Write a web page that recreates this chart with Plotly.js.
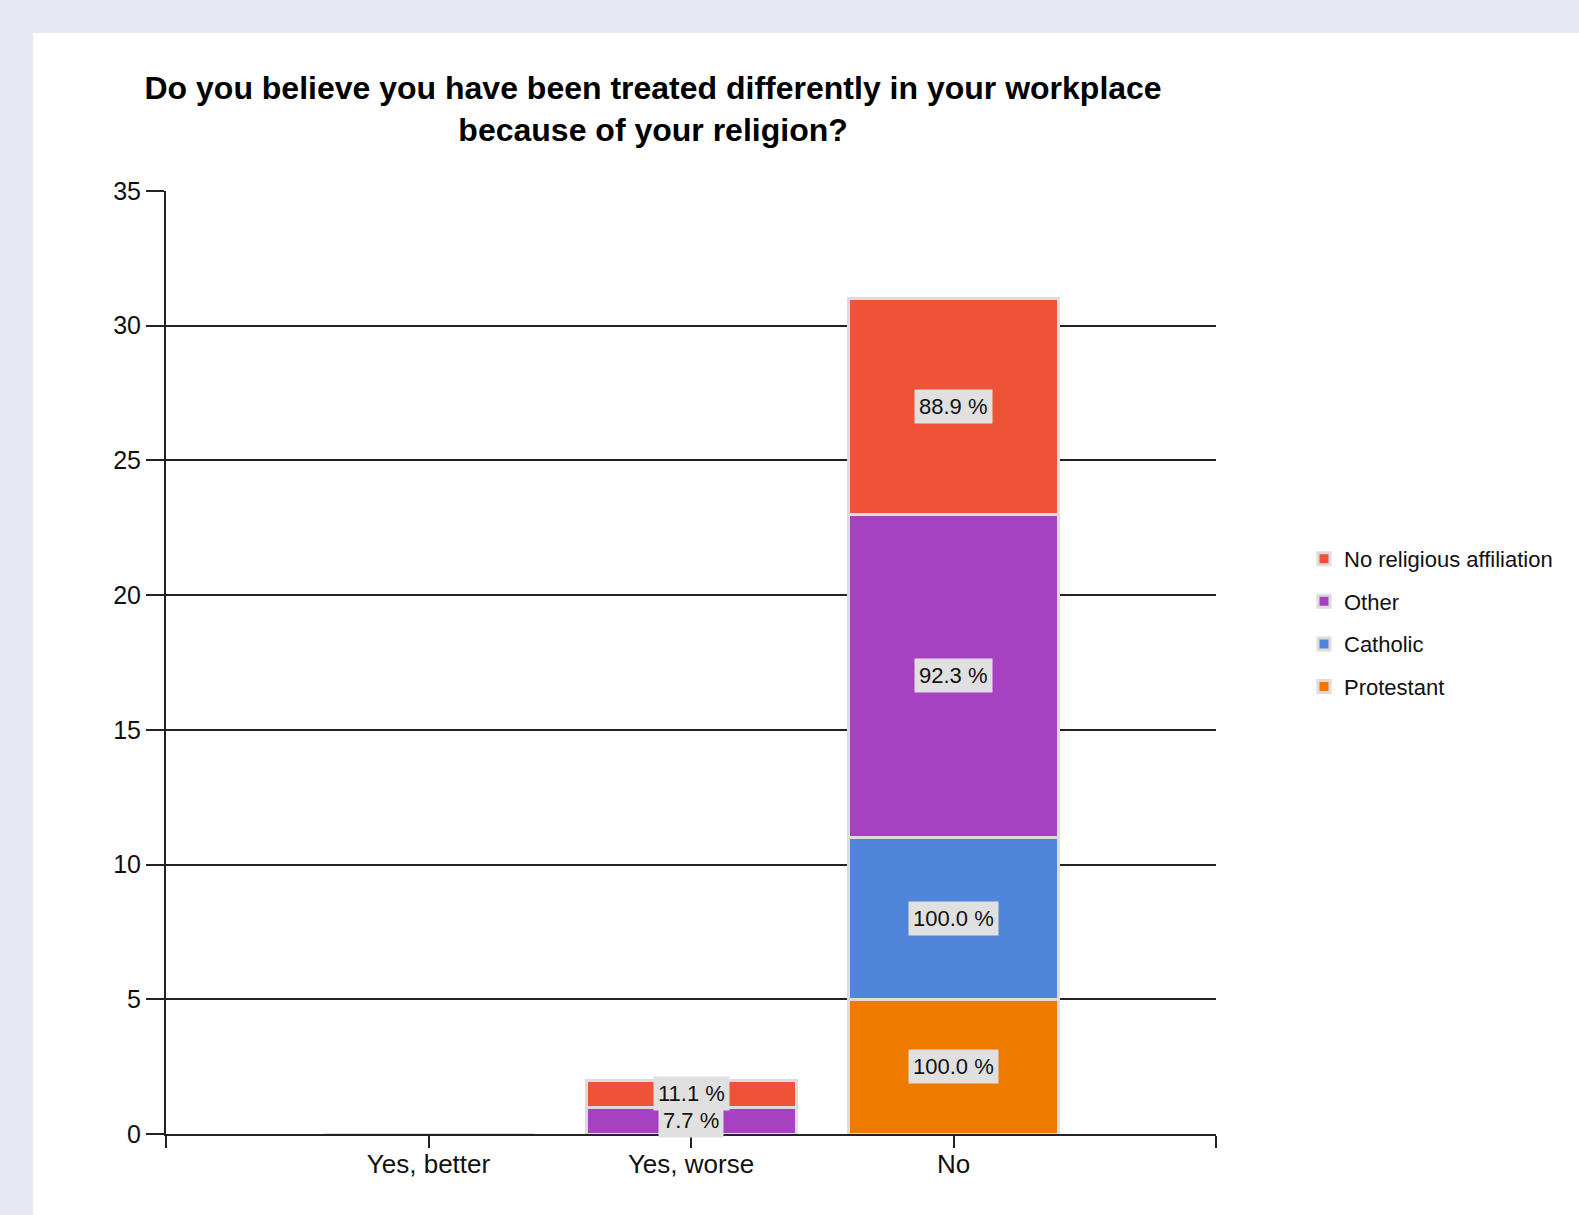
<!DOCTYPE html>
<html>
<head>
<meta charset="utf-8">
<script src="https://cdn.plot.ly/plotly-3.0.1.min.js"></script>
<style>
  html, body { margin: 0; padding: 0; background: #e6e9f2; }
  #wrap { position: relative; width: 1579px; height: 1215px; overflow: hidden; }
  #panel { position: absolute; left: 33px; top: 33px; right: 0; bottom: 0; background: #ffffff; }
  #chart { position: absolute; left: 0; top: 0; width: 1579px; height: 1215px; }
</style>
</head>
<body>
<div id="wrap">
  <div id="panel"></div>
  <div id="chart"></div>
</div>
<script>
// ---- data ----
const categories = ['Yes, better', 'Yes, worse', 'No'];
const protestant = [0, 0, 5];
const catholic = [0, 0, 6];
const other = [0, 1, 12];
const noReligion = [0, 1, 8];
const seriesNames = ['Protestant', 'Catholic', 'Other', 'No religious affiliation'];
const seriesColors = ['#ee7b00', '#5185d9', '#a642c2', '#ee5237'];
const yTicks = [0, 5, 10, 15, 20, 25, 30, 35];

const seriesValues = [protestant, catholic, other, noReligion];
const FONT = 'Liberation Sans, Arial, sans-serif';

const traces = seriesValues.map((vals, i) => ({
  type: 'bar',
  name: seriesNames[i],
  x: categories,
  y: vals,
  width: 0.8,
  legendrank: 1000 - i,
  legendgroup: 'g' + i,
  marker: { color: seriesColors[i], line: { color: '#dcdcdc', width: 3 } },
  hoverinfo: 'skip'
}));

// percentage labels (share of each series' total), centred in each segment
const annotations = [];
const base = categories.map(() => 0);
seriesValues.forEach((vals) => {
  const total = vals.reduce((a, b) => a + b, 0);
  vals.forEach((v, j) => {
    if (v > 0) {
      annotations.push({
        x: categories[j], y: base[j] + v / 2, xref: 'x', yref: 'y',
        text: (v / total * 100).toFixed(1) + ' %',
        showarrow: false,
        bgcolor: '#e0e0e0',
        borderpad: 4,
        font: { family: FONT, size: 22, color: '#111111' }
      });
    }
    base[j] += v;
  });
});

const layout = {
  width: 1579, height: 1215,
  paper_bgcolor: 'rgba(0,0,0,0)',
  plot_bgcolor: 'rgba(0,0,0,0)',
  margin: { l: 166, r: 363, t: 191, b: 81 },
  barmode: 'stack',
  title: {
    text: 'Do you believe you have been treated differently in your workplace<br>because of your religion?',
    font: { family: FONT, size: 32, color: '#000000', weight: 'bold' },
    x: 0.4136, xref: 'container', xanchor: 'center',
    y: 1 - 99 / 1215, yref: 'container', yanchor: 'top'
  },
  xaxis: {
    type: 'category',
    range: [-1, 3],
    tickmode: 'array',
    tickvals: [-1, 0, 1, 2, 3],
    ticktext: ['', categories[0], categories[1], categories[2], ''],
    ticks: 'outside', ticklen: 12, tickwidth: 2, tickcolor: '#222222',
    ticklabelstandoff: -6,
    showline: true, linecolor: '#222222', linewidth: 2,
    showgrid: false, zeroline: false,
    tickfont: { family: FONT, size: 26, color: '#111111' }
  },
  yaxis: {
    range: [0, 35],
    tickmode: 'array', tickvals: yTicks,
    ticks: 'outside', ticklen: 18, tickwidth: 2, tickcolor: '#222222',
    showline: true, linecolor: '#222222', linewidth: 2,
    showgrid: true, gridcolor: '#222222', gridwidth: 2,
    zeroline: false,
    tickfont: { family: FONT, size: 25, color: '#111111' }
  },
  showlegend: true,
  legend: {
    x: 1.0838, xanchor: 'left',
    y: 0.542, yanchor: 'middle',
    traceorder: 'grouped',
    tracegroupgap: 11,
    font: { family: FONT, size: 22, color: '#111111' },
    bgcolor: 'rgba(0,0,0,0)'
  },
  annotations: annotations
};

Plotly.newPlot('chart', traces, layout, { displayModeBar: false, staticPlot: true });
</script>
</body>
</html>
